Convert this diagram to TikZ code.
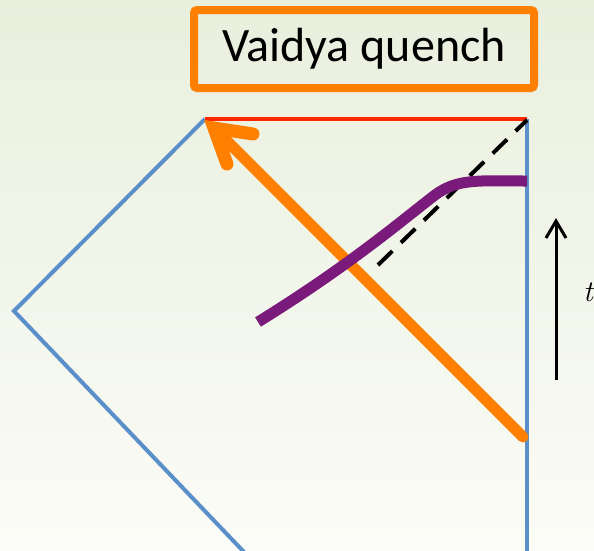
\documentclass[tikz,border=0pt]{standalone}
\usepackage{fontspec}
\newfontfamily\carlito{Carlito}
\newfontfamily\lmital{Latin Modern Roman}
\usetikzlibrary{arrows.meta}
\definecolor{bgtop}{RGB}{233,239,221}
\definecolor{bgbot}{RGB}{251,252,247}
\definecolor{qorange}{RGB}{255,128,0}
\definecolor{qblue}{RGB}{91,143,201}
\definecolor{qred}{RGB}{255,38,0}
\definecolor{qpurple}{RGB}{122,26,122}
\tikzset{
  bluel/.style={draw=qblue, line width=4pt},
  redl/.style={draw=qred, line width=4pt},
  orangel/.style={draw=qorange, line width=11pt},
  purplel/.style={draw=qpurple, line width=11pt},
  dashl/.style={draw=black, line width=4pt, dash pattern=on 20pt off 12pt},
  timel/.style={draw=black, line width=3pt},
  titlebox/.style={draw=qorange, line width=8pt, rounded corners=3pt, fill=none,
    minimum width=340pt, minimum height=78pt, inner sep=0pt,
    font=\carlito\fontsize{48}{48}\selectfont},
  tlabel/.style={inner sep=0pt, font=\lmital\fontsize{30}{30}\selectfont\itshape}
}
\begin{document}
\begin{tikzpicture}[x=1pt,y=-1pt]
\shade[top color=bgtop,bottom color=bgbot] (0,0) rectangle (594,550);
\useasboundingbox (0,0) rectangle (594,550);
% coordinates
\coordinate (TL) at (205,119);
\coordinate (TR) at (527,119);
\coordinate (L) at (14,311);
\coordinate (BL) at (244,552);
\coordinate (BR) at (527,552);
\coordinate (os) at (523,437);
\coordinate (tip) at (214,128);
\coordinate (b1) at (253,134);
\coordinate (b2) at (227,164);
\coordinate (ds) at (378,265);
\coordinate (de) at (527,120);
\coordinate (ps) at (258,322);
\coordinate (pm) at (435,195);
\coordinate (pe) at (527,181);
\coordinate (tb) at (556,380);
\coordinate (tt) at (556,221);
\coordinate (tb1) at (546,238);
\coordinate (tb2) at (566,238);
% title
\node[titlebox] (box) at (364,49) {Vaidya quench};
% diagram boundary
\draw[bluel, line join=miter] (TL) -- (L) -- (BL);
\draw[bluel] (TR) -- (BR);
\draw[redl] (TL) -- (TR);
% orange arrow
\draw[orangel, line cap=round] (os) -- (tip);
\draw[orangel, line width=13pt, line cap=round, line join=miter] (b1) -- (tip) -- (b2);
% dashed
\draw[dashl] (ds) -- (de);
% purple curve
\draw[purplel] (ps) .. controls (350,265) and (400,222) .. (pm)
  .. controls (458,178) and (480,181) .. (pe);
% time arrow
\draw[timel] (tb) -- (tt);
\draw[timel, line join=miter] (tb1) -- (tt) -- (tb2);
\node[tlabel] (tlab) at (588,292) {t};
\end{tikzpicture}
\end{document}
